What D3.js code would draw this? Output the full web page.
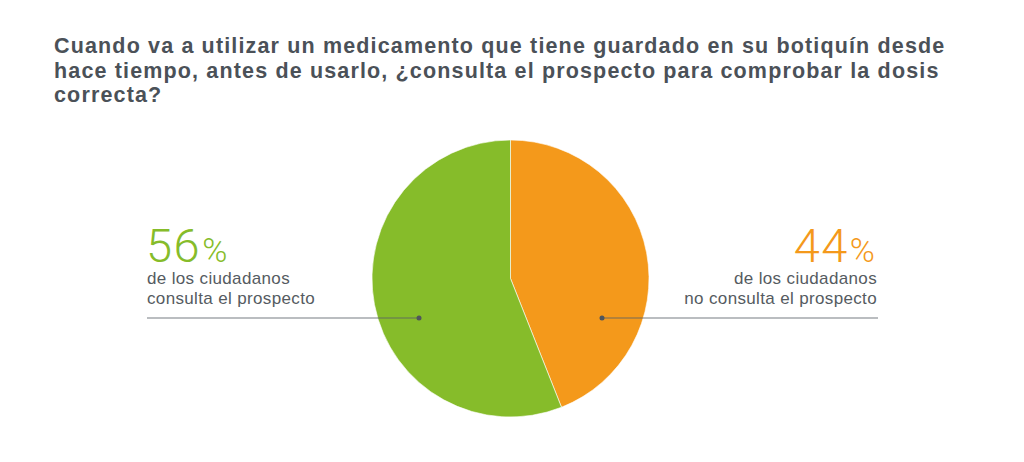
<!DOCTYPE html>
<html lang="es">
<head>
    <meta charset="UTF-8">
    <title>Consulta del prospecto</title>
    <script src="https://d3js.org/d3.v7.min.js" charset="utf-8"></script>
    <style>
        body, html {
            margin: 0;
            padding: 0;
            width: 100%;
            height: 100%;
            overflow: hidden;
            background: #ffffff;
        }
        .title {
            font-family: "Liberation Sans", Arial, sans-serif;
            font-weight: bold;
            font-size: 21.5px;
            letter-spacing: 1.15px;
            fill: #4b5158;
        }
        .pct {
            font-family: Roboto, "Liberation Sans", sans-serif;
            font-weight: 300;
            letter-spacing: 1.5px;
        }
        .desc {
            font-family: "Liberation Sans", Arial, sans-serif;
            font-size: 17px;
            letter-spacing: 0.35px;
            fill: #555b61;
        }
    </style>
</head>
<body>
    <svg id="chart"></svg>

    <script>
        // chart data
        const categories = ['no consulta', 'consulta'];
        const values = [44, 56];
        const colors = ['#f4991b', '#86bc2a'];
        const descLines = [
            ['de los ciudadanos', 'no consulta el prospecto'],
            ['de los ciudadanos', 'consulta el prospecto']
        ];
        const titleLines = [
            'Cuando va a utilizar un medicamento que tiene guardado en su botiquín desde',
            'hace tiempo, antes de usarlo, ¿consulta el prospecto para comprobar la dosis',
            'correcta?'
        ];

        // SVG size
        const width = 1024;
        const height = 462;

        const svg = d3.select('#chart')
            .attr('width', width)
            .attr('height', height);

        // title
        const title = svg.append('text')
            .attr('class', 'title')
            .attr('x', 54)
            .attr('y', 53);
        title.selectAll('tspan')
            .data(titleLines)
            .join('tspan')
            .attr('x', 54)
            .attr('dy', (d, i) => i === 0 ? 0 : 24.5)
            .text(d => d);

        // pie
        const cx = 510.5;
        const cy = 278.5;
        const radius = 138.5;

        const pie = d3.pie().sort(null).value(d => d);
        const arc = d3.arc().innerRadius(0).outerRadius(radius);
        const arcs = pie(values);

        const pieGroup = svg.append('g')
            .attr('transform', `translate(${cx},${cy})`);

        pieGroup.selectAll('path')
            .data(arcs)
            .join('path')
            .attr('d', arc)
            .attr('fill', (d, i) => colors[i])
            .attr('stroke', '#ffffff')
            .attr('stroke-width', 0.6);

        // leader lines (right side for first slice, left side for second)
        const lineY = cy + 39.5;
        const dotOffset = 91.5;
        const leaders = [
            { dotX: cx + dotOffset, endX: 878, anchor: 'end' },
            { dotX: cx - dotOffset, endX: 147, anchor: 'start' }
        ];

        svg.selectAll('.leader')
            .data(leaders)
            .join('line')
            .attr('class', 'leader')
            .attr('x1', d => d.dotX)
            .attr('x2', d => d.endX)
            .attr('y1', lineY)
            .attr('y2', lineY)
            .attr('stroke', 'rgba(90,95,102,0.55)')
            .attr('stroke-width', 1.5);

        svg.selectAll('.dot')
            .data(leaders)
            .join('circle')
            .attr('class', 'dot')
            .attr('cx', d => d.dotX)
            .attr('cy', lineY)
            .attr('r', 2.5)
            .attr('fill', '#4f555c');

        // labels
        leaders.forEach((l, i) => {
            const x = l.anchor === 'end' ? l.endX - 3 : l.endX - 1;
            const pct = svg.append('text')
                .attr('class', 'pct')
                .attr('x', x)
                .attr('y', 262)
                .attr('text-anchor', l.anchor)
                .attr('fill', colors[i]);
            pct.append('tspan')
                .style('font-size', '47px')
                .text(values[i]);
            pct.append('tspan')
                .attr('dx', 1)
                .style('font-size', '34px')
                .style('letter-spacing', '0px')
                .text('%');

            svg.append('text')
                .attr('class', 'desc')
                .attr('text-anchor', l.anchor)
                .selectAll('tspan')
                .data(descLines[i])
                .join('tspan')
                .attr('x', l.anchor === 'end' ? l.endX - 1 : l.endX)
                .attr('y', (d, j) => 284 + j * 20)
                .text(d => d);
        });
    </script>
</body>
</html>
